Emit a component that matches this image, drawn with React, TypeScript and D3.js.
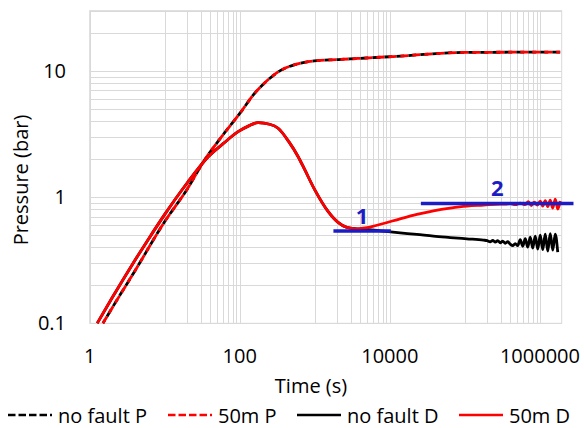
import React, { useEffect, useRef } from "react";
import * as d3 from "d3";

// pressure (P) curves, both cases lie on top of each other
const timeP = [1.5, 2, 4, 10, 20, 34, 57, 100, 158, 238, 350, 540, 980, 2050, 11000, 95000, 1860000];
const pNoFault = [0.1, 0.133, 0.26, 0.64, 1.16, 1.97, 3.0, 4.6, 6.65, 8.5, 10.1, 11.2, 12.0, 12.3, 13.0, 14.0, 14.1];
const p50m = [0.1, 0.133, 0.26, 0.64, 1.16, 1.97, 3.0, 4.6, 6.65, 8.5, 10.1, 11.2, 12.0, 12.3, 13.0, 14.0, 14.1];

// derivative (D) curves, same until the fault is felt
const timeDShared = [1.26, 2, 3.6, 6, 10, 20, 38, 60, 95, 130, 175, 250, 324, 450, 600, 737, 1000, 1500, 2040, 2670, 3630];
const dShared = [0.1, 0.16, 0.285, 0.46, 0.73, 1.3, 2.09, 2.65, 3.3, 3.65, 3.89, 3.78, 3.51, 2.75, 2.09, 1.64, 1.14, 0.77, 0.63, 0.575, 0.561];

const timeNoFaultTail = [
  4930, 8220, 13700, 22900, 38100, 63700, 106000, 177000, 198000, 217000, 235000, 254000, 274000,
  296000, 319000, 345000, 372000, 402000, 434000, 469000, 506000, 546000, 590000, 637000, 688000,
  743000, 802000, 866000, 935000, 1009000, 1090000, 1177000, 1271000, 1371000, 1482000, 1600000, 1727000,
];
const dNoFaultTail = [
  0.556, 0.537, 0.521, 0.506, 0.49, 0.478, 0.467, 0.456, 0.452, 0.443, 0.453, 0.44, 0.452,
  0.435, 0.448, 0.431, 0.443, 0.424, 0.412, 0.428, 0.412, 0.46, 0.408, 0.469, 0.401,
  0.482, 0.394, 0.49, 0.387, 0.499, 0.383, 0.508, 0.373, 0.513, 0.38, 0.508, 0.366,
];

const time50mTail = [
  4930, 8220, 13700, 22900, 38100, 63700, 106000, 177000, 296000, 345000, 402000, 469000, 546000,
  637000, 700000, 767000, 841000, 922000, 1009000, 1090000, 1177000, 1271000, 1371000, 1482000,
  1600000, 1727000, 1865000,
];
const d50mTail = [
  0.572, 0.618, 0.673, 0.729, 0.778, 0.818, 0.849, 0.864, 0.88, 0.88, 0.888, 0.872, 0.896,
  0.872, 0.921, 0.856, 0.913, 0.864, 0.93, 0.848, 0.938, 0.841, 0.947, 0.818,
  0.964, 0.803, 0.93,
];

// stabilisation levels marked on the plot
const levelLabels = ["1", "2"];
const levelValues = [0.54, 0.89];
const levelStart = [1770, 25900];
const levelEnd = [10300, 2800000];

const xTickLabels = [1, 100, 10000, 1000000];
const yTickLabels = [0.1, 1, 10];

const legendLabels = ["no fault P", "50m P", "no fault D", "50m D"];

const FONT = "'Open Sans', sans-serif";
const BLUE = "#1c1cc4";

const App = () => {
  const svgRef = useRef(null);
  const width = 584;
  const height = 428;

  useEffect(() => {
    const svg = d3.select(svgRef.current);
    svg.selectAll("*").remove();

    const left = 89.7, right = 561.7, top = 10.7, bottom = 323.3;

    const x = d3.scaleLog().domain([1, 1.95e6]).range([left, right]);
    const y = d3.scaleLog().domain([0.1, 30]).range([bottom, top]);

    // grid lines (Excel log base 100 on time axis)
    const xGrid = [];
    [1, 100, 10000, 1000000].forEach((b) => xGrid.push(b));
    [10, 1000, 100000].forEach((b) => {
      for (let m = 1; m < 10; m++) xGrid.push(b * m);
    });
    const yGrid = [];
    [0.1, 1, 10].forEach((b) => {
      for (let m = 1; m < 10; m++) if (b * m <= 30) yGrid.push(b * m);
    });

    const grid = svg.append("g").attr("stroke", "#d9d9d9").attr("stroke-width", 1);
    grid
      .selectAll(".xg")
      .data(xGrid)
      .enter()
      .append("line")
      .attr("x1", (d) => Math.round(x(d)) + 0.5)
      .attr("x2", (d) => Math.round(x(d)) + 0.5)
      .attr("y1", top)
      .attr("y2", bottom);
    grid
      .selectAll(".yg")
      .data(yGrid)
      .enter()
      .append("line")
      .attr("x1", left)
      .attr("x2", right)
      .attr("y1", (d) => Math.round(y(d)) + 0.5)
      .attr("y2", (d) => Math.round(y(d)) + 0.5);

    svg
      .append("rect")
      .attr("x", left)
      .attr("y", top)
      .attr("width", right - left)
      .attr("height", bottom - top)
      .attr("fill", "none")
      .attr("stroke", "#d9d9d9");

    const line = d3
      .line()
      .x((d) => x(d[0]))
      .y((d) => y(d[1]))
      .curve(d3.curveMonotoneX);

    const zip = (ts, vs) => ts.map((t, i) => [t, vs[i]]);

    const series = [
      { pts: zip(timeP, pNoFault), color: "#000", dash: "8,4", offset: 4 },
      { pts: zip(timeP, p50m), color: "#ff0000", dash: "8,4", offset: 0 },
      { pts: zip(timeDShared.concat(timeNoFaultTail), dShared.concat(dNoFaultTail)), color: "#000", dash: null, offset: 0 },
      { pts: zip(timeDShared.concat(time50mTail), dShared.concat(d50mTail)), color: "#ff0000", dash: null, offset: 0 },
    ];

    series.forEach((s) => {
      svg
        .append("path")
        .datum(s.pts)
        .attr("d", line)
        .attr("fill", "none")
        .attr("stroke", s.color)
        .attr("stroke-width", 2.8)
        .attr("stroke-dasharray", s.dash)
        .attr("stroke-dashoffset", s.offset)
        .attr("stroke-linejoin", "round");
    });

    // level markers
    levelLabels.forEach((lab, i) => {
      svg
        .append("line")
        .attr("x1", x(levelStart[i]))
        .attr("x2", x(levelEnd[i]))
        .attr("y1", y(levelValues[i]))
        .attr("y2", y(levelValues[i]))
        .attr("stroke", BLUE)
        .attr("stroke-width", 3.5);
      svg
        .append("text")
        .attr("x", (x(levelStart[i]) + x(levelEnd[i])) / 2)
        .attr("y", y(levelValues[i]) - 7)
        .attr("text-anchor", "middle")
        .attr("font-family", FONT)
        .attr("font-weight", "bold")
        .attr("font-size", 22)
        .attr("fill", BLUE)
        .text(lab);
    });

    // tick labels
    svg
      .selectAll(".xt")
      .data(xTickLabels)
      .enter()
      .append("text")
      .attr("x", (d) => x(d))
      .attr("y", 363)
      .attr("text-anchor", "middle")
      .attr("font-family", FONT)
      .attr("font-size", 20)
      .text((d) => String(d));
    svg
      .selectAll(".yt")
      .data(yTickLabels)
      .enter()
      .append("text")
      .attr("x", 66)
      .attr("y", (d) => y(d) + 7)
      .attr("text-anchor", "end")
      .attr("font-family", FONT)
      .attr("font-size", 20)
      .text((d) => String(d));

    svg
      .append("text")
      .attr("x", 311)
      .attr("y", 393)
      .attr("text-anchor", "middle")
      .attr("font-family", FONT)
      .attr("font-size", 20)
      .text("Time (s)");
    svg
      .append("text")
      .attr("transform", "translate(28,180) rotate(-90)")
      .attr("text-anchor", "middle")
      .attr("font-family", FONT)
      .attr("font-size", 20)
      .text("Pressure (bar)");

    // legend
    const legX = [8, 168, 297, 459];
    const legColor = ["#000", "#ff0000", "#000", "#ff0000"];
    const legDash = ["7.5,3", "7.5,3", null, null];
    legendLabels.forEach((lab, i) => {
      svg
        .append("line")
        .attr("x1", legX[i])
        .attr("x2", legX[i] + 44)
        .attr("y1", 415)
        .attr("y2", 415)
        .attr("stroke", legColor[i])
        .attr("stroke-width", 2.5)
        .attr("stroke-dasharray", legDash[i]);
      svg
        .append("text")
        .attr("x", legX[i] + 50)
        .attr("y", 423)
        .attr("font-family", FONT)
        .attr("font-size", 20)
        .text(lab);
    });
  }, []);

  return (
    <svg
      ref={svgRef}
      width={width}
      height={height}
      style={{ position: "absolute", left: 0, top: 0, background: "#fff" }}
    ></svg>
  );
};

export default App;
